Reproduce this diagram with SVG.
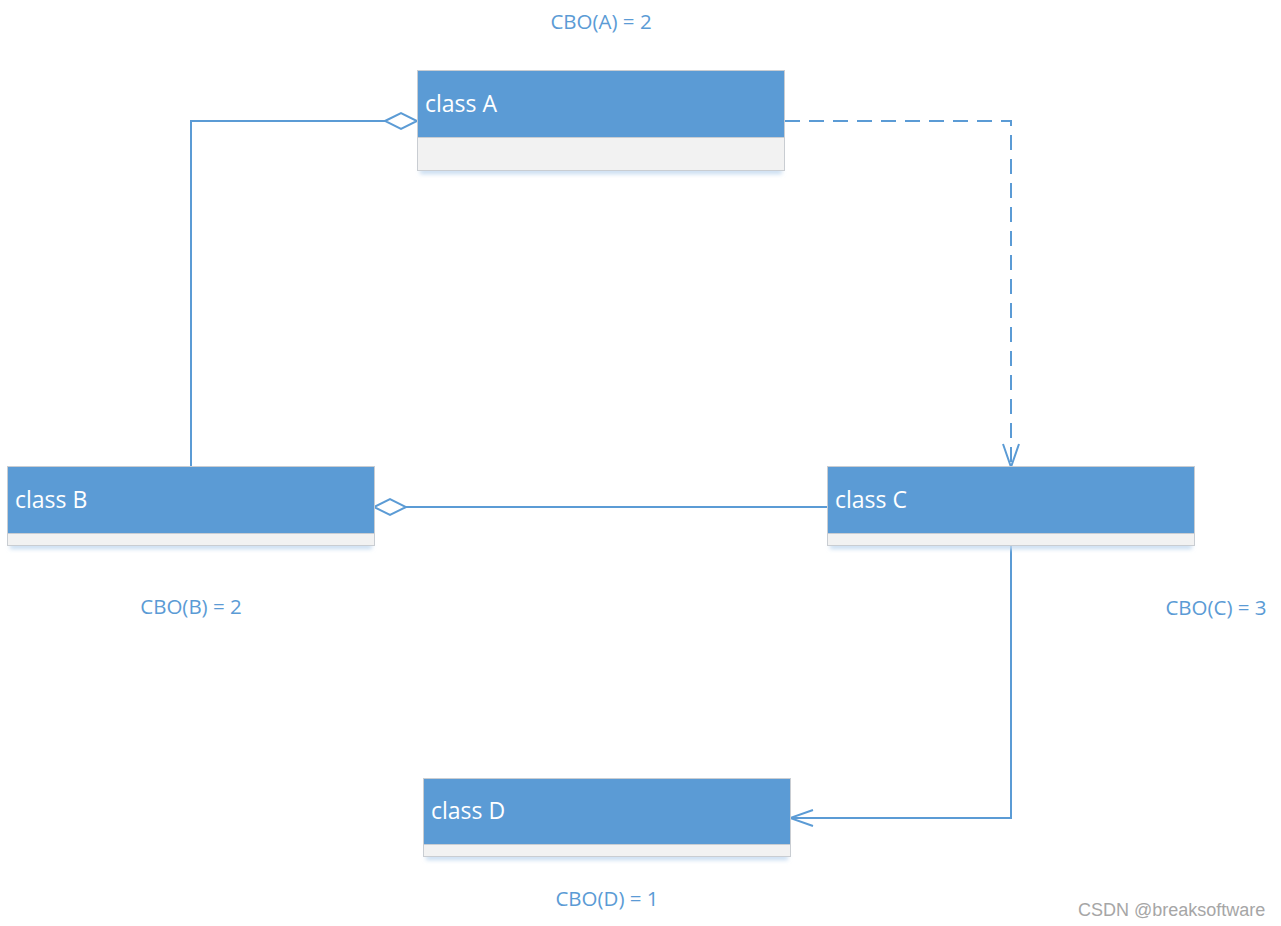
<svg xmlns="http://www.w3.org/2000/svg" width="1281" height="926" viewBox="0 0 1281 926">
<style>
.hdr{fill:#5B9BD5;stroke:#C9CDD2;stroke-width:1}
.body{fill:#F2F2F2;stroke:#C9CDD2;stroke-width:1}
.shadow{fill:#C5DAF0;filter:url(#blur)}
.cls{font-family:"Open Sans","Noto Sans",sans-serif;font-size:23px;fill:#FFFFFF}
.cbo{font-family:"Open Sans","Noto Sans",sans-serif;font-size:20.5px;fill:#5B9BD5;text-anchor:middle}
.ln{fill:none;stroke:#5B9BD5;stroke-width:2}
.wm{font-family:"Liberation Sans",Arial,sans-serif;font-size:18px;fill:#A6A6A6}
</style>
<defs>
<filter id="blur" x="-10%" y="-100%" width="120%" height="300%">
<feGaussianBlur stdDeviation="2"/>
</filter>
<marker id="dia" markerUnits="userSpaceOnUse" markerWidth="36" markerHeight="20" refX="33" refY="9" orient="auto" viewBox="0 0 36 18">
<path d="M1,9 L17,1 L33,9 L17,17 Z" fill="#FFFFFF" stroke="#5B9BD5" stroke-width="2"/>
</marker>
<marker id="open" markerUnits="userSpaceOnUse" markerWidth="26" markerHeight="20" refX="24" refY="9" orient="auto" viewBox="0 0 26 18">
<path d="M1,1 L24,9 L1,17" fill="none" stroke="#5B9BD5" stroke-width="2"/>
</marker>
</defs>
<rect width="1281" height="926" fill="#FFFFFF"/>
<g id="connectors">
<path class="ln" d="M191,467 L191,121 L417,121" marker-end="url(#dia)"/>
<path class="ln" d="M827,507 L374,507" marker-end="url(#dia)"/>
<path class="ln" d="M785,121 L1011,121 L1011,467" stroke-dasharray="15 9" marker-end="url(#open)"/>
<path class="ln" d="M1011,546 L1011,818 L790,818" marker-end="url(#open)"/>
</g>
<g id="classA">
<rect class="shadow" x="420" y="169" width="362" height="5"/>
<rect class="hdr" x="417.5" y="70.5" width="367" height="67"/>
<rect class="body" x="417.5" y="137.5" width="367" height="33"/>
<text class="cls" x="425" y="112">class A</text>
</g>
<g id="classB">
<rect class="shadow" x="10" y="544" width="362" height="5"/>
<rect class="hdr" x="7.5" y="466.5" width="367" height="67"/>
<rect class="body" x="7.5" y="533.5" width="367" height="12"/>
<text class="cls" x="15" y="508">class B</text>
</g>
<g id="classC">
<rect class="shadow" x="830" y="544" width="362" height="5"/>
<rect class="hdr" x="827.5" y="466.5" width="367" height="67"/>
<rect class="body" x="827.5" y="533.5" width="367" height="12"/>
<text class="cls" x="835" y="508">class C</text>
</g>
<g id="classD">
<rect class="shadow" x="426" y="855" width="362" height="5"/>
<rect class="hdr" x="423.5" y="778.5" width="367" height="66"/>
<rect class="body" x="423.5" y="844.5" width="367" height="12"/>
<text class="cls" x="431" y="819">class D</text>
</g>
<g id="labels">
<text class="cbo" x="601" y="29">CBO(A) = 2</text>
<text class="cbo" x="191" y="614">CBO(B) = 2</text>
<text class="cbo" x="1216" y="615">CBO(C) = 3</text>
<text class="cbo" x="607" y="906">CBO(D) = 1</text>
<text class="wm" x="1078" y="916">CSDN @breaksoftware</text>
</g>
</svg>
